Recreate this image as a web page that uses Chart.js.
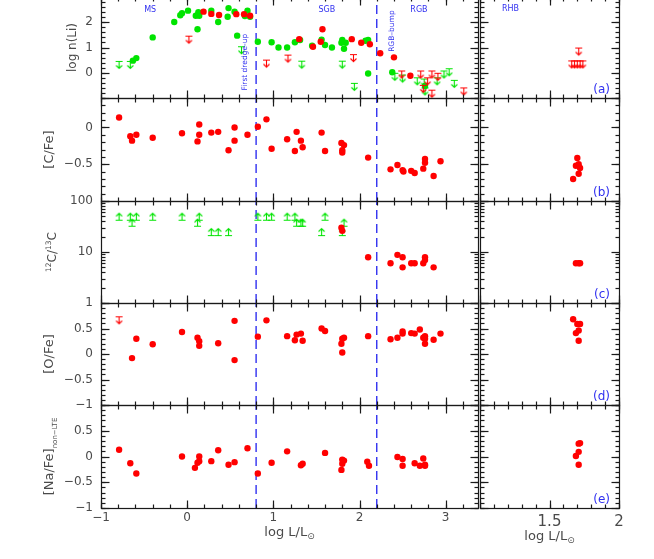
<!DOCTYPE html>
<html>
<head>
<meta charset="utf-8">
<script src="https://cdn.jsdelivr.net/npm/chart.js@4"></script>
<style>
  html, body { margin: 0; padding: 0; background: #fff; }
  body { width: 654px; height: 559px; overflow: hidden; position: relative; }
  canvas { position: absolute; }
</style>
</head>
<body>
<script>
// ---------------- DATA ----------------
// (a) log n(Li)
const liRedX = [0.19,0.28,0.37,0.57,0.66,0.73,1.30,1.46,1.57,1.55,1.91,2.02,2.12,2.24,2.40,2.59];
const liRedY = [2.42,2.33,2.29,2.32,2.32,2.26,1.33,1.03,1.72,1.23,1.33,1.19,1.13,0.77,0.61,-0.12];
const liGreenX = [-0.63,-0.59,-0.40,-0.15,-0.08,-0.06,0.01,0.10,0.13,0.14,0.12,0.28,0.36,0.48,0.47,0.55,0.58,0.70,0.67,0.73,0.82,0.98,1.06,1.16,1.25,1.31,1.45,1.56,1.60,1.68,1.79,1.80,1.82,1.84,2.07,2.10,2.10,2.38,2.76];
const liGreenY = [0.48,0.58,1.40,2.01,2.28,2.36,2.46,2.26,2.40,2.26,1.72,2.46,2.01,2.56,2.22,2.42,1.47,2.46,2.25,2.22,1.23,1.21,1.00,1.00,1.21,1.30,1.07,1.31,1.10,1.00,1.19,1.30,0.95,1.19,1.27,1.30,-0.03,0.02,-0.52];
const liRedUlX = [0.02,0.92,1.17,1.93,2.49,2.71,2.79,2.74,2.84,2.84,2.91,3.21];
const liRedUlY = [1.45,0.50,0.70,0.72,0.07,0.07,-0.20,-0.50,0.07,-0.69,-0.02,-0.60];
const liGreenUlX = [-0.79,-0.66,0.63,1.33,1.80,1.94,2.41,2.50,2.67,2.75,2.76,2.90,2.98,3.04,3.10];
const liGreenUlY = [0.45,0.45,1.03,0.46,0.46,-0.42,-0.02,-0.09,-0.20,-0.25,-0.60,-0.20,0.07,0.16,-0.30];
const rhbLiUlX = [1.71,1.66,1.68,1.70,1.72,1.74];
const rhbLiUlY = [0.98,0.47,0.47,0.47,0.47,0.47];

// (b) [C/Fe]
const cfeX = [-0.79,-0.66,-0.64,-0.59,-0.40,-0.06,0.12,0.14,0.14,0.28,0.36,0.48,0.55,0.55,0.70,0.82,0.92,0.98,1.16,1.25,1.27,1.32,1.34,1.56,1.60,1.79,1.82,1.80,1.80,2.10,2.36,2.44,2.50,2.51,2.60,2.64,2.74,2.76,2.76,2.86,2.94];
const cfeY = [0.135,-0.12,-0.18,-0.10,-0.14,-0.08,-0.19,0.04,-0.10,-0.07,-0.06,-0.31,0.0,-0.18,-0.10,0.01,0.11,-0.29,-0.16,-0.32,-0.06,-0.18,-0.27,-0.07,-0.32,-0.21,-0.24,-0.31,-0.34,-0.41,-0.57,-0.51,-0.58,-0.60,-0.59,-0.62,-0.56,-0.48,-0.43,-0.66,-0.46];
const rhbCfeX = [1.70,1.69,1.71,1.72,1.71,1.67];
const rhbCfeY = [-0.415,-0.52,-0.50,-0.55,-0.63,-0.70];

// (c) 12C/13C
const ccRedX = [1.79,1.80,2.10,2.36,2.44,2.50,2.50,2.60,2.64,2.74,2.76,2.76,2.86];
const ccRedY = [30,26,7.9,6.0,8.8,7.9,5.0,6.0,6.0,6.0,7.0,7.9,5.0];
const ccGreenLlX = [-0.79,-0.66,-0.64,-0.59,-0.40,-0.06,0.12,0.14,0.28,0.36,0.48,0.82,0.92,0.98,1.16,1.25,1.27,1.32,1.34,1.56,1.60,1.80,1.82];
const ccGreenLlY = [42,42,32,42,42,42,32,42,21,21,21,42,42,42,42,42,32,32,32,21,42,21,32];
const rhbCcX = [1.69,1.71,1.72];
const rhbCcY = [6,6,6];

// (d) [O/Fe]
const ofeX = [-0.64,-0.59,-0.40,-0.06,0.12,0.14,0.14,0.36,0.55,0.55,0.82,0.92,1.16,1.25,1.27,1.32,1.34,1.56,1.60,1.79,1.80,1.82,1.80,2.10,2.36,2.44,2.50,2.50,2.60,2.64,2.70,2.74,2.76,2.76,2.76,2.86,2.94];
const ofeY = [-0.08,0.30,0.19,0.43,0.32,0.25,0.16,0.21,0.65,-0.12,0.34,0.66,0.35,0.27,0.38,0.40,0.26,0.50,0.45,0.20,0.30,0.32,0.03,0.35,0.29,0.32,0.40,0.44,0.41,0.40,0.48,0.32,0.35,0.30,0.20,0.28,0.40];
const ofeUlX = [-0.79];
const ofeUlY = [0.73];
const rhbOfeX = [1.67,1.70,1.72,1.71,1.69,1.71];
const rhbOfeY = [0.68,0.59,0.59,0.46,0.41,0.26];

// (e) [Na/Fe] non-LTE
const nafeX = [-0.79,-0.66,-0.59,-0.06,0.09,0.12,0.14,0.14,0.28,0.36,0.48,0.55,0.70,0.82,0.98,1.16,1.32,1.34,1.60,1.79,1.80,1.80,1.82,2.09,2.11,2.44,2.50,2.50,2.64,2.70,2.74,2.76,2.76];
const nafeY = [0.13,-0.13,-0.33,0.0,-0.22,-0.12,0.0,-0.09,-0.09,0.12,-0.16,-0.11,0.16,-0.33,-0.12,0.10,-0.17,-0.14,0.07,-0.26,-0.06,-0.14,-0.08,-0.10,-0.18,-0.01,-0.05,-0.18,-0.13,-0.18,-0.04,-0.16,-0.18];
const rhbNafeX = [1.71,1.72,1.71,1.69,1.71];
const rhbNafeY = [0.25,0.26,0.09,0.01,-0.16];

// phase boundaries (log L/Lsun)
const phaseLines = [0.8, 2.2];

// tick labels
const leftXLabels = [-1, 0, 1, 2, 3];
const rightXLabels = [1.5, 2];
const yLabelsA = [0, 1, 2, 3];
const yLabelsB = [-0.5, 0];
const yLabelsC = [10, 100];
const yLabelsD = [-1, -0.5, 0, 0.5, 1];
const yLabelsE = [-1, -0.5, 0, 0.5];

// ---------------- STYLE ----------------
const FONT = "'DejaVu Sans', sans-serif";
const RED = '#ff0000', GREEN = '#00e400', BLUE = '#3030f0';
const AXIS = '#1a1a1a', TXT = '#4a4a4a';

function pts(xs, ys) { return xs.map((x, i) => ({ x: x, y: ys[i] })); }
function fmt(v) { const s = String(Math.round(Math.abs(v) * 1000) / 1000); return v < 0 ? '\u2212' + s : s; }
function steps(a, b, st) { const r = []; const n = Math.round((b - a) / st); for (let i = 0; i <= n; i++) r.push(+(a + i * st).toFixed(4)); return r; }

function limitGlyph(color, dir) {
  const c = document.createElement('canvas');
  c.width = 9; c.height = 17;
  const g = c.getContext('2d');
  g.strokeStyle = color; g.lineWidth = 1.1;
  g.beginPath();
  g.moveTo(1, 8.5); g.lineTo(8, 8.5);
  if (dir === 'down') {
    g.moveTo(4.5, 8.5); g.lineTo(4.5, 15.5);
    g.moveTo(1.5, 12.5); g.lineTo(4.5, 15.5); g.lineTo(7.5, 12.5);
  } else {
    g.moveTo(4.5, 8.5); g.lineTo(4.5, 1.5);
    g.moveTo(1.5, 4.5); g.lineTo(4.5, 1.5); g.lineTo(7.5, 4.5);
  }
  g.stroke();
  return c;
}
const redDown = limitGlyph(RED, 'down');
const greenDown = limitGlyph(GREEN, 'down');
const greenUp = limitGlyph(GREEN, 'up');

function dots(xs, ys, color) {
  return { data: pts(xs, ys), pointStyle: 'circle', pointRadius: 3.2, backgroundColor: color, borderColor: color, borderWidth: 0, order: 1 };
}
function limits(xs, ys, glyph) {
  return { data: pts(xs, ys), pointStyle: glyph, pointRadius: 4, borderWidth: 0, order: 1 };
}
function vline(xv, yMin, yMax) {
  return { data: [{ x: xv, y: yMin }, { x: xv, y: yMax }], showLine: true, borderColor: BLUE, borderWidth: 1.4,
           borderDash: [9, 5], pointRadius: 0, backgroundColor: 'transparent', order: 10 };
}

function drawRich(ctx, parts, cx, cy, rot) {
  ctx.save();
  ctx.translate(cx, cy); ctx.rotate(rot);
  const widths = [];
  let w = 0;
  parts.forEach(p => { ctx.font = p.size + 'px ' + FONT; const pw = ctx.measureText(p.t).width; widths.push(pw); w += pw; });
  let xx = -w / 2;
  ctx.textBaseline = 'middle'; ctx.textAlign = 'left'; ctx.fillStyle = TXT;
  parts.forEach((p, i) => { ctx.font = p.size + 'px ' + FONT; ctx.fillText(p.t, xx, p.dy || 0); xx += widths[i]; });
  ctx.restore();
}

// per-panel decoration plugin: frame, inward ticks, annotations, titles (config kept in closure)
function makeDeco(cfg) {
  return {
    id: 'deco',
    afterDraw(chart) {
      const ctx = chart.ctx;
      const a = chart.chartArea;
      const xs = chart.scales.x, ys = chart.scales.y;
      const L = Math.round(a.left) + 0.5, R = Math.round(a.right) + 0.5;
      const T = Math.round(a.top) + 0.5, B = Math.round(a.bottom) + 0.5;
      ctx.save();
      ctx.setLineDash([]);
      ctx.globalAlpha = 1;
      ctx.strokeStyle = AXIS;
      ctx.lineWidth = 1.2;
      ctx.strokeRect(L, T, R - L, B - T);
      const line = (x1, y1, x2, y2) => { ctx.beginPath(); ctx.moveTo(x1, y1); ctx.lineTo(x2, y2); ctx.stroke(); };
      const xTicks = (vals, len) => {
        for (let i = 0; i < vals.length; i++) {
          const v = vals[i];
          if (v < cfg.xMin - 1e-9 || v > cfg.xMax + 1e-9) continue;
          const px = Math.round(xs.getPixelForValue(v)) + 0.5;
          line(px, B, px, B - len);
          line(px, T, px, T + len);
        }
      };
      const yTicks = (vals, len) => {
        for (let i = 0; i < vals.length; i++) {
          const v = vals[i];
          if (v < cfg.yMin - 1e-9 || v > cfg.yMax + 1e-9) continue;
          const py = Math.round(ys.getPixelForValue(v)) + 0.5;
          line(L, py, L + len, py);
          line(R, py, R - len, py);
        }
      };
      xTicks(cfg.xMinor, 4); xTicks(cfg.xMajor, 8);
      yTicks(cfg.yMinor, 4); yTicks(cfg.yMajor, 8);
      cfg.texts.forEach(t => {
        ctx.save();
        ctx.translate(xs.getPixelForValue(t.x), ys.getPixelForValue(t.y));
        ctx.rotate(t.rot || 0);
        ctx.font = t.size + 'px ' + FONT; ctx.fillStyle = BLUE;
        ctx.textAlign = 'center'; ctx.textBaseline = 'middle';
        ctx.fillText(t.t, 0, 0);
        ctx.restore();
      });
      if (cfg.panel) {
        ctx.font = '12px ' + FONT; ctx.fillStyle = BLUE;
        ctx.textAlign = 'right'; ctx.textBaseline = 'middle';
        ctx.fillText(cfg.panel, a.right - 9, a.bottom - 8);
      }
      if (cfg.yTitle) drawRich(ctx, cfg.yTitle.parts, a.left + cfg.yTitle.dx, (a.top + a.bottom) / 2, -Math.PI / 2);
      if (cfg.xTitle) drawRich(ctx, cfg.xTitle.parts, (a.left + a.right) / 2, a.bottom + cfg.xTitle.dy, 0);
      ctx.restore();
    }
  };
}

// ---------------- LAYOUT ----------------
const ROWS = [{ t: -3, b: 98 }, { t: 98, b: 201 }, { t: 201, b: 303 }, { t: 303, b: 405 }, { t: 405, b: 508 }];
const PAGE_H = 559;

function makePanel(side, row, spec) {
  const isLeft = side === 'L';
  const isLast = row === 4;
  const r = ROWS[row];
  const M = 12;
  const cl = isLeft ? 0 : 468;
  const cw = isLeft ? 482 : 163;
  const ct = r.t - M;
  const bottomSpace = isLast ? PAGE_H - r.b : M;
  const ch = (r.b - r.t) + M + bottomSpace;
  const cv = document.createElement('canvas');
  cv.width = cw; cv.height = ch;
  cv.style.left = cl + 'px'; cv.style.top = ct + 'px';
  document.body.appendChild(cv);

  const xMin = isLeft ? -1 : 1, xMax = isLeft ? 3.375 : 2;
  const xLabels = isLast ? (isLeft ? leftXLabels : rightXLabels) : [];
  const xFontSize = isLeft ? 12 : 15;
  const datasets = spec.datasets.slice();
  if (isLeft) phaseLines.forEach(v => datasets.push(vline(v, spec.yMin, spec.yMax)));

  const cfg = {
    xMin: xMin, xMax: xMax, yMin: spec.yMin, yMax: spec.yMax,
    xMajor: isLeft ? [-1, 0, 1, 2, 3] : [1, 1.5, 2],
    xMinor: isLeft ? steps(-1, 3.4, 0.2) : steps(1, 2, 0.1),
    yMajor: spec.yMajor, yMinor: spec.yMinor,
    texts: spec.texts || [],
    panel: isLeft ? '' : spec.panel,
    yTitle: isLeft ? spec.yTitle : null,
    xTitle: isLast ? { parts: [{ t: 'log L/L', size: 13 }, { t: '\u2299', size: 9, dy: 4 }], dy: isLeft ? 25 : 29 } : null
  };

  new Chart(cv, {
    type: 'scatter',
    data: { datasets: datasets },
    options: {
      responsive: false, animation: false, devicePixelRatio: 1,
      layout: { padding: { left: isLeft ? 0 : 12, right: isLeft ? 2 : 12, top: M, bottom: isLast ? 0 : M } },
      plugins: { legend: { display: false }, tooltip: { enabled: false } },
      scales: {
        x: {
          type: 'linear', min: xMin, max: xMax,
          display: isLast,
          grid: { display: false, drawTicks: false }, border: { display: false },
          afterBuildTicks: s => { s.ticks = xLabels.map(v => ({ value: v })); },
          ticks: { callback: v => fmt(v), autoSkip: false, maxRotation: 0, padding: isLeft ? 3 : 5,
                   font: { family: FONT, size: xFontSize }, color: TXT },
          afterFit: s => { s.height = isLast ? bottomSpace : 0; s.paddingLeft = 0; s.paddingRight = 0; }
        },
        y: {
          type: spec.yType || 'linear', min: spec.yMin, max: spec.yMax,
          display: isLeft,
          grid: { display: false, drawTicks: false }, border: { display: false },
          afterBuildTicks: s => { s.ticks = spec.yLabels.map(v => ({ value: v })); },
          ticks: { callback: v => fmt(v), autoSkip: false, padding: 8,
                   font: { family: FONT, size: 12 }, color: TXT },
          afterFit: s => { s.width = isLeft ? 101 : 0; s.paddingTop = 0; s.paddingBottom = 0; }
        }
      }
    },
    plugins: [makeDeco(cfg)]
  });
}

const yMinorA = steps(-1, 3, 0.2), yMinorBDE = steps(-1, 1, 0.1);
const logMinor = [2,3,4,5,6,7,8,9,20,30,40,50,60,70,80,90];

// Row a
const specA = {
  yMin: -1, yMax: 3, yLabels: yLabelsA, yMajor: [-1, 0, 1, 2, 3], yMinor: yMinorA,
  yTitle: { parts: [{ t: 'log n(Li)', size: 12 }], dx: -28 }
};
makePanel('L', 0, Object.assign({}, specA, {
  datasets: [dots(liRedX, liRedY, RED), limits(liRedUlX, liRedUlY, redDown),
             dots(liGreenX, liGreenY, GREEN), limits(liGreenUlX, liGreenUlY, greenDown)],
  texts: [
    { t: 'MS', x: -0.43, y: 2.5, size: 8 },
    { t: 'SGB', x: 1.62, y: 2.5, size: 8 },
    { t: 'RGB', x: 2.69, y: 2.5, size: 8 },
    { t: 'First dredge-up', x: 0.667, y: 0.42, size: 7.5, rot: -Math.PI / 2 },
    { t: 'RGB\u2013bump', x: 2.38, y: 1.65, size: 7.5, rot: -Math.PI / 2 }
  ]
}));
makePanel('R', 0, Object.assign({}, specA, {
  datasets: [limits(rhbLiUlX, rhbLiUlY, redDown)],
  texts: [{ t: 'RHB', x: 1.22, y: 2.52, size: 8 }], panel: '(a)'
}));

// Row b
const specB = {
  yMin: -1, yMax: 0.4, yLabels: yLabelsB, yMajor: [-1, -0.5, 0], yMinor: steps(-1, 0.4, 0.1),
  yTitle: { parts: [{ t: '[C/Fe]', size: 13 }], dx: -51 }
};
makePanel('L', 1, Object.assign({}, specB, { datasets: [dots(cfeX, cfeY, RED)] }));
makePanel('R', 1, Object.assign({}, specB, { datasets: [dots(rhbCfeX, rhbCfeY, RED)], panel: '(b)' }));

// Row c
const specC = {
  yType: 'logarithmic', yMin: 1, yMax: 100, yLabels: yLabelsC, yMajor: [1, 10, 100], yMinor: logMinor,
  yTitle: { parts: [{ t: '12', size: 7.5, dy: -4 }, { t: 'C/', size: 12 }, { t: '13', size: 7.5, dy: -4 }, { t: 'C', size: 12 }], dx: -48 }
};
makePanel('L', 2, Object.assign({}, specC, {
  datasets: [dots(ccRedX, ccRedY, RED), limits(ccGreenLlX, ccGreenLlY, greenUp)]
}));
makePanel('R', 2, Object.assign({}, specC, { datasets: [dots(rhbCcX, rhbCcY, RED)], panel: '(c)' }));

// Row d
const specD = {
  yMin: -1, yMax: 1, yLabels: yLabelsD, yMajor: [-1, -0.5, 0, 0.5, 1], yMinor: yMinorBDE,
  yTitle: { parts: [{ t: '[O/Fe]', size: 13 }], dx: -51 }
};
makePanel('L', 3, Object.assign({}, specD, {
  datasets: [dots(ofeX, ofeY, RED), limits(ofeUlX, ofeUlY, redDown)]
}));
makePanel('R', 3, Object.assign({}, specD, { datasets: [dots(rhbOfeX, rhbOfeY, RED)], panel: '(d)' }));

// Row e
const specE = {
  yMin: -1, yMax: 1, yLabels: yLabelsE, yMajor: [-1, -0.5, 0, 0.5, 1], yMinor: yMinorBDE,
  yTitle: { parts: [{ t: '[Na/Fe]', size: 13 }, { t: 'non\u2212LTE', size: 7, dy: 5 }], dx: -51 }
};
makePanel('L', 4, Object.assign({}, specE, { datasets: [dots(nafeX, nafeY, RED)] }));
makePanel('R', 4, Object.assign({}, specE, { datasets: [dots(rhbNafeX, rhbNafeY, RED)], panel: '(e)' }));
</script>
</body>
</html>
